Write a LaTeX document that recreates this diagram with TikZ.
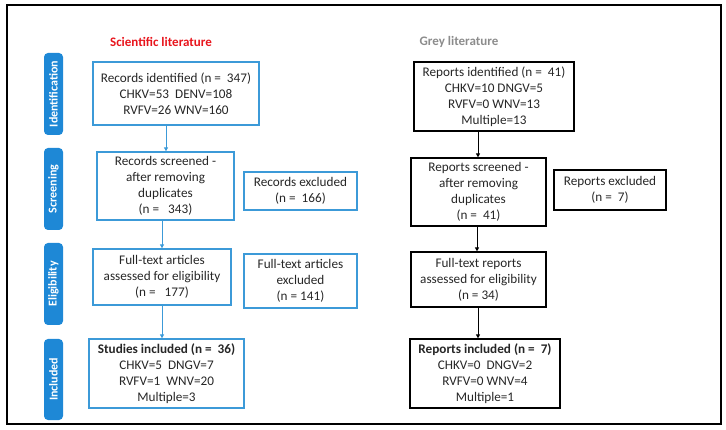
\documentclass[tikz,border=0pt]{standalone}
\usepackage{fontspec}
\setmainfont{Carlito}
\usetikzlibrary{arrows.meta}
\definecolor{tabblue}{HTML}{1E88D6}
\definecolor{boxblue}{HTML}{3C9AD8}
\definecolor{titlered}{HTML}{E8141C}
\definecolor{titlegrey}{HTML}{8C8C8C}
\tikzset{
  bbox/.style={draw=boxblue, line width=1.3pt, align=center, inner sep=2pt, font=\fontsize{13.2}{16}\selectfont, text=black!85},
  kbox/.style={draw=black, line width=1.2pt, align=center, inner sep=2pt, font=\fontsize{13.2}{16}\selectfont, text=black!85},
  tab/.style={fill=tabblue, rounded corners=4pt, text=white, font=\bfseries\fontsize{12}{14}\selectfont, rotate=90, inner sep=0pt, anchor=center},
  barrow/.style={draw=boxblue, line width=1pt, -{Triangle[length=4pt,width=4pt]}},
  karrow/.style={draw=black, line width=1pt, -{Triangle[length=4pt,width=4pt]}},
}
\begin{document}
\begin{tikzpicture}[x=1pt,y=-1pt]
\useasboundingbox (0,0) rectangle (726,430);
\draw[line width=1.5pt] (7,5) rectangle (721,424);
% titles
\node[text=titlered, font=\bfseries\fontsize{13}{15}\selectfont] (t1) at (161,42) {Scientific literature};
\node[text=titlegrey, font=\bfseries\fontsize{13}{15}\selectfont] (t2) at (459,42) {Grey literature};
% tabs
\node[tab, minimum width=82pt, minimum height=19pt] (tid) at (53.5,94) {Identification};
\node[tab, minimum width=82pt, minimum height=19pt] (tsc) at (53.5,189) {Screening};
\node[tab, minimum width=82pt, minimum height=19pt] (tel) at (53.5,284) {Eligibility};
\node[tab, minimum width=81pt, minimum height=19pt] (tin) at (53.5,379.5) {Included};
% left column
\node[bbox, minimum width=166pt, minimum height=63pt] (a1) at (176,93.5) {Records identified (n =\ \ 347)\\CHKV=53\ \ DENV=108\\RVFV=26 WNV=160};
\node[bbox, minimum width=137pt, minimum height=68pt] (a2) at (165.5,186) {Records screened -\\after removing\\duplicates\\(n =\ \ \ 343)};
\node[bbox, minimum width=113pt, minimum height=38pt] (a3) at (300.5,191) {Records excluded\\(n =\ \ 166)};
\node[bbox, minimum width=138pt, minimum height=56pt] (a4) at (162,277) {Full-text articles\\assessed for eligibility\\(n =\ \ \ 177)};
\node[bbox, minimum width=113pt, minimum height=54pt] (a5) at (300.5,281) {Full-text articles\\excluded\\(n = 141)};
\node[bbox, minimum width=155pt, minimum height=69pt] (a6) at (166.5,373.5) {\textbf{Studies included (n =\ \ 36)}\\CHKV=5\ \ DNGV=7\\RVFV=1\ \ WNV=20\\Multiple=3};
% right column
\node[kbox, minimum width=160pt, minimum height=69pt] (b1) at (494,96.5) {Reports identified (n =\ \ 41)\\CHKV=10 DNGV=5\\RVFV=0 WNV=13\\Multiple=13};
\node[kbox, minimum width=135pt, minimum height=68pt] (b2) at (478.5,192) {Reports screened -\\after removing\\duplicates\\(n =\ \ 41)};
\node[kbox, minimum width=112pt, minimum height=40pt] (b3) at (610,190) {Reports excluded\\(n =\ \ 7)};
\node[kbox, minimum width=135pt, minimum height=55pt] (b4) at (478.5,279.5) {Full-text reports\\assessed for eligibility\\(n = 34)};
\node[kbox, minimum width=150pt, minimum height=69pt] (b5) at (485,373.5) {\textbf{Reports included (n =\ \ 7)}\\CHKV=0\ \ DNGV=2\\RVFV=0 WNV=4\\Multiple=1};
% arrows
\draw[barrow] (a1.south -| 166,0) -- (a2.north -| 166,0);
\draw[barrow] (a2.south -| 162,0) -- (a4.north -| 162,0);
\draw[barrow] (a4.south -| 162,0) -- (a6.north -| 162,0);
\draw[karrow] (b1.south -| 478,0) -- (b2.north -| 478,0);
\draw[karrow] (b2.south -| 477,0) -- (b4.north -| 477,0);
\draw[karrow] (b4.south -| 478,0) -- (b5.north -| 478,0);
\end{tikzpicture}
\end{document}
